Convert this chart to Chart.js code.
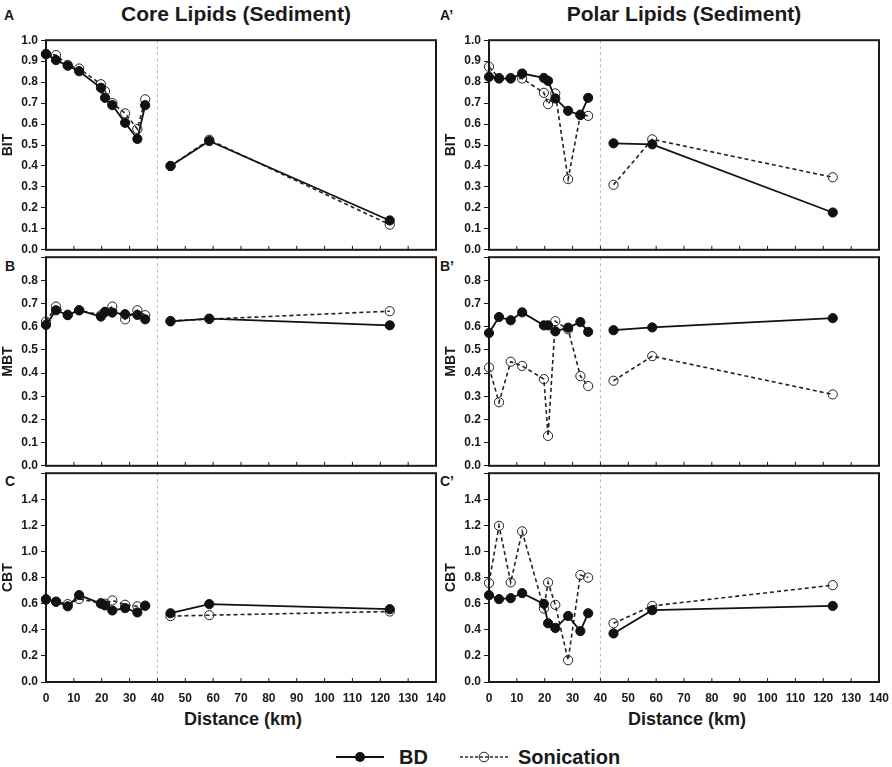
<!DOCTYPE html>
<html>
<head>
<meta charset="utf-8">
<script src="https://cdn.jsdelivr.net/npm/chart.js@4.4.1/dist/chart.umd.min.js"></script>
<style>
  html,body{margin:0;padding:0;background:#fff;}
  body{width:892px;height:767px;position:relative;overflow:hidden;font-family:"Liberation Sans",Arial,sans-serif;color:#1a1a1a;}
  canvas{position:absolute;}
  .t{position:absolute;font-weight:bold;white-space:nowrap;}
  .ct{font-size:21px;top:2px;transform:translateX(-50%);}
  .pl{font-size:14px;}
  .xt{font-size:18px;top:709px;transform:translateX(-50%);}
  .leg{position:absolute;top:746px;left:336px;height:22px;display:flex;align-items:center;font-weight:bold;font-size:20px;}
</style>
</head>
<body>
<div class="t ct" style="left:236px;">Core Lipids (Sediment)</div>
<div class="t ct" style="left:684px;">Polar Lipids (Sediment)</div>
<div class="t pl" style="left:4px;top:7px;">A</div>
<div class="t pl" style="left:440px;top:7px;">A’</div>
<div class="t pl" style="left:5px;top:258px;">B</div>
<div class="t pl" style="left:440px;top:258px;">B’</div>
<div class="t pl" style="left:5px;top:473px;">C</div>
<div class="t pl" style="left:440px;top:473px;">C’</div>
<div class="t xt" style="left:243px;">Distance (km)</div>
<div class="t xt" style="left:687px;">Distance (km)</div>
<div class="leg">
  <svg width="48" height="14" style="display:block"><line x1="0" y1="7" x2="48" y2="7" stroke="#111" stroke-width="2"/><circle cx="24" cy="7" r="5" fill="#111"/></svg>
  <span style="margin-left:15px;">BD</span>
  <svg width="48" height="14" style="display:block;margin-left:32px;"><line x1="0" y1="7" x2="48" y2="7" stroke="#222" stroke-width="1.3" stroke-dasharray="3,2"/><circle cx="24" cy="7" r="4.8" fill="none" stroke="#222" stroke-width="1"/></svg>
  <span style="margin-left:10px;">Sonication</span>
</div>

<canvas id="c0" width="460" height="230" style="left:0px;top:30px;"></canvas>
<canvas id="c1" width="460" height="229" style="left:0px;top:247px;"></canvas>
<canvas id="c2" width="460" height="249" style="left:0px;top:463px;"></canvas>
<canvas id="c3" width="460" height="230" style="left:443px;top:30px;"></canvas>
<canvas id="c4" width="460" height="229" style="left:443px;top:247px;"></canvas>
<canvas id="c5" width="460" height="249" style="left:443px;top:463px;"></canvas>

<script>
// ---- data ----
const distance = [0, 3.6, 7.8, 11.9, 19.7, 21.2, 23.8, 28.4, 32.8, 35.6, 44.7, 58.6, 123.4];

const bitCoreBD   = [0.933, 0.905, 0.878, 0.852, 0.773, 0.725, 0.690, 0.606, 0.529, 0.690, 0.400, 0.519, 0.140];
const bitCoreSon  = [0.935, 0.929, 0.882, 0.865, 0.790, 0.757, 0.700, 0.651, 0.576, 0.718, 0.400, 0.525, 0.120];
const mbtCoreBD   = [0.608, 0.671, 0.650, 0.671, 0.644, 0.664, 0.661, 0.654, 0.651, 0.632, 0.623, 0.635, 0.606];
const mbtCoreSon  = [0.622, 0.687, 0.652, 0.671, 0.650, 0.664, 0.687, 0.632, 0.671, 0.650, 0.625, 0.633, 0.667];
const cbtCoreBD   = [0.635, 0.615, 0.580, 0.666, 0.600, 0.587, 0.548, 0.566, 0.533, 0.584, 0.527, 0.597, 0.558];
const cbtCoreSon  = [0.630, 0.615, 0.597, 0.636, 0.605, 0.600, 0.625, 0.592, 0.580, 0.585, 0.505, 0.512, 0.540];

const bitPolarBD  = [0.825, 0.817, 0.817, 0.841, 0.820, 0.806, 0.722, 0.663, 0.643, 0.725, 0.508, 0.503, 0.178];
const bitPolarSon = [0.873, 0.820, 0.820, 0.817, 0.749, 0.695, 0.746, 0.337, 0.645, 0.639, 0.310, 0.527, 0.346];
const mbtPolarBD  = [0.573, 0.642, 0.628, 0.662, 0.606, 0.606, 0.580, 0.596, 0.620, 0.578, 0.585, 0.597, 0.637];
const mbtPolarSon = [0.424, 0.274, 0.449, 0.431, 0.374, 0.129, 0.624, 0.589, 0.387, 0.344, 0.367, 0.473, 0.308];
const cbtPolarBD  = [0.665, 0.635, 0.642, 0.681, 0.599, 0.450, 0.414, 0.506, 0.390, 0.527, 0.372, 0.550, 0.583];
const cbtPolarSon = [0.758, 1.197, 0.763, 1.154, 0.563, 0.763, 0.591, 0.167, 0.820, 0.800, 0.450, 0.583, 0.742];

const yTitles = ['BIT', 'MBT', 'CBT'];
const yMax    = [1.0, 0.9, 1.6];
const yStep   = [0.1, 0.1, 0.2];
const xTickStep = 10;
const xMin = 0, xMax = 140;
const gapAt = 40; // dashed divider, lines are not joined across it

// ---- drawing ----
const INK = '#1a1a1a';
const FONT = '"Liberation Sans", Arial, sans-serif';

const framePlugin = {
  id: 'frame',
  beforeDatasetsDraw(chart) {
    const {ctx, chartArea: a, scales: {x}} = chart;
    ctx.save();
    const px = x.getPixelForValue(gapAt);
    ctx.strokeStyle = '#b8b8b8';
    ctx.lineWidth = 1;
    ctx.setLineDash([3, 3]);
    ctx.beginPath(); ctx.moveTo(px, a.top); ctx.lineTo(px, a.bottom); ctx.stroke();
    ctx.setLineDash([]);
    ctx.strokeStyle = INK;
    ctx.lineWidth = 1;
    x.ticks.forEach(t => {
      const p = x.getPixelForValue(t.value);
      ctx.beginPath(); ctx.moveTo(p, a.bottom); ctx.lineTo(p, a.bottom - 4); ctx.stroke();
    });
    ctx.lineWidth = 2;
    ctx.strokeRect(a.left, a.top, a.right - a.left, a.bottom - a.top);
    ctx.restore();
  }
};

function toPoints(vals) {
  return vals.map((v, i) => ({x: distance[i], y: v}));
}
const gapSeg = ctx => (ctx.p0.parsed.x < gapAt && ctx.p1.parsed.x > gapAt) ? 'rgba(0,0,0,0)' : undefined;

function makePanel(id, row, bd, son) {
  const showX = row === 2;
  new Chart(document.getElementById(id), {
    type: 'line',
    data: {
      datasets: [
        {
          label: 'BD', data: toPoints(bd),
          borderColor: '#111', borderWidth: 1.8,
          pointRadius: 4.6, pointBackgroundColor: '#111', pointBorderColor: '#111', pointBorderWidth: 1,
          segment: {borderColor: gapSeg}, clip: false, tension: 0
        },
        {
          label: 'Sonication', data: toPoints(son),
          borderColor: '#222', borderWidth: 1.6, borderDash: [4, 3],
          pointRadius: 4.6, pointBackgroundColor: 'rgba(255,255,255,0)', pointBorderColor: '#222', pointBorderWidth: 1,
          segment: {borderColor: gapSeg}, clip: false, tension: 0
        }
      ]
    },
    options: {
      responsive: false, animation: false, devicePixelRatio: 1,
      layout: {padding: {top: 10, right: 24, left: 0, bottom: 0}},
      plugins: {legend: {display: false}, tooltip: {enabled: false}},
      scales: {
        x: {
          type: 'linear', min: xMin, max: xMax,
          grid: {display: false, drawTicks: false},
          border: {display: false},
          ticks: {display: showX, stepSize: xTickStep, padding: 9, color: INK, font: {family: FONT, size: 12, weight: 'bold'}},
          afterFit: s => { s.height = showX ? 30 : 10; }
        },
        y: {
          type: 'linear', min: 0, max: yMax[row],
          grid: {display: true, drawOnChartArea: false, drawTicks: true, tickLength: 5, color: INK, lineWidth: 1},
          border: {display: false},
          ticks: {
            stepSize: yStep[row], padding: 3, color: INK, font: {family: FONT, size: 12, weight: 'bold'},
            callback: v => (row > 0 && Math.abs(v - yMax[row]) < 1e-6) ? '' : v.toFixed(1)
          },
          title: {display: true, text: yTitles[row], color: INK, padding: {top: 0, bottom: 0}, font: {family: FONT, size: 14, weight: 'bold'}},
          afterFit: s => { s.width = 46; }
        }
      }
    },
    plugins: [framePlugin]
  });
}

makePanel('c0', 0, bitCoreBD, bitCoreSon);
makePanel('c1', 1, mbtCoreBD, mbtCoreSon);
makePanel('c2', 2, cbtCoreBD, cbtCoreSon);
makePanel('c3', 0, bitPolarBD, bitPolarSon);
makePanel('c4', 1, mbtPolarBD, mbtPolarSon);
makePanel('c5', 2, cbtPolarBD, cbtPolarSon);
</script>
</body>
</html>
